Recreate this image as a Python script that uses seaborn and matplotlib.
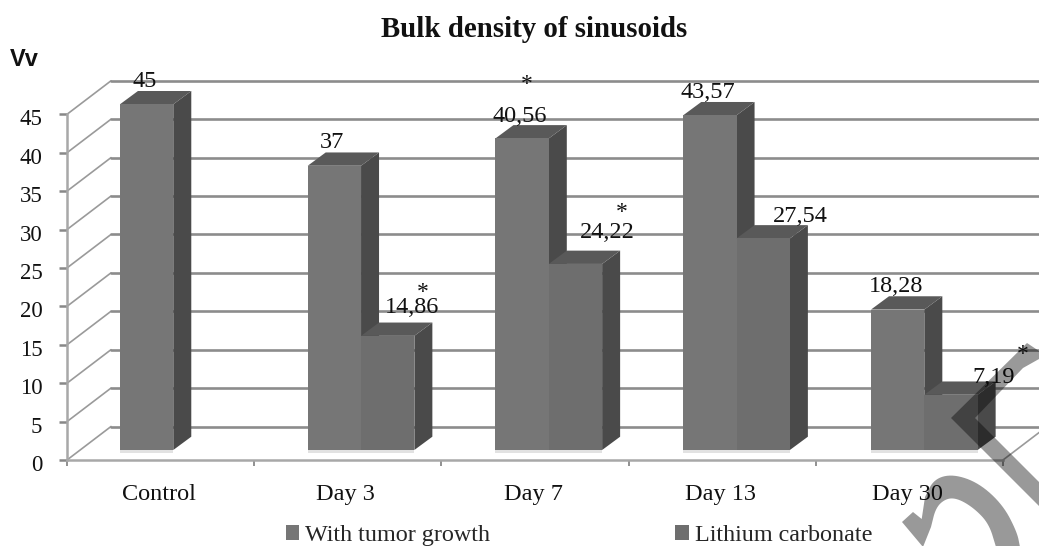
import numpy as np
import pandas as pd
import matplotlib
matplotlib.use("Agg")
import matplotlib.pyplot as plt
import seaborn as sns
from matplotlib.patches import Polygon, Rectangle
from matplotlib.transforms import ScaledTranslation

categories = ["Control", "Day 3", "Day 7", "Day 13", "Day 30"]
tumor_growth = [45, 37, 40.56, 43.57, 18.28]
lithium = [np.nan, 14.86, 24.22, 27.54, 7.19]
series_names = ["With tumor growth", "Lithium carbonate"]
y_ticks = list(range(0, 50, 5))
title = "Bulk density of sinusoids"

W, H = 1039, 546
PX = 72 / 100
SERIF = "Liberation Serif"
sns.set_theme(style="white")
plt.rcParams["font.family"] = SERIF

df = pd.DataFrame({
    "cat": categories * 2,
    "val": tumor_growth + lithium,
    "series": [series_names[0]] * 5 + [series_names[1]] * 5,
})

fig = plt.figure(figsize=(W / 100, H / 100), dpi=100, facecolor="white")


def axes_px(x0, x1, ybottom, ytop):
    return fig.add_axes([x0 / W, 1 - ybottom / H, (x1 - x0) / W, (ybottom - ytop) / H])


# frame axes: axis lines, ticks and the 3D wall
frame = axes_px(67, 1003, 460, 114.3)
frame.set_xlim(0, 5)
frame.set_ylim(0, 45)
frame.patch.set_alpha(0)
unit_x = 936 / 5
unit_y = 345.7 / 45
wall_dx, wall_dy = 44 / unit_x, 33.5 / unit_y
GRID = "#8c8c8c"
for v in y_ticks:
    frame.plot([0, wall_dx], [v, v + wall_dy], color="#9a9a9a", lw=1.2, clip_on=False, zorder=1)
    frame.plot([wall_dx, 5.3], [v + wall_dy] * 2, color=GRID, lw=1.9, clip_on=False, zorder=1)
frame.plot([5, 5 + wall_dx], [0, wall_dy], color="#9a9a9a", lw=1.2, clip_on=False, zorder=1)
for s in ["top", "right"]:
    frame.spines[s].set_visible(False)
for s in ["left", "bottom"]:
    frame.spines[s].set_color("#a8a8a8")
    frame.spines[s].set_linewidth(1.8)
frame.set_yticks(y_ticks)
frame.set_xticks(range(6))
frame.set_xticklabels([])
frame.set_xticks(np.arange(5) + 0.49, labels=categories, minor=True)
frame.tick_params(axis="x", which="major", length=6 * PX, width=1.3, color="#888888", bottom=True)
frame.tick_params(axis="x", which="minor", length=0, labelsize=17.5, pad=17, bottom=False)
frame.tick_params(axis="y", length=8 * PX, width=1.8, color="#888888", labelsize=16.5, pad=12, left=True)
for lab in frame.get_xticklabels(which="minor") + frame.get_yticklabels():
    lab.set_fontfamily(SERIF)
    lab.set_color("#111111")
for lab in frame.get_yticklabels():
    lab.set_transform(lab.get_transform() + ScaledTranslation(0, -3 * PX / 72, fig.dpi_scale_trans))

# bars axes: same value scale, shifted to the floor of the 3D box
bars_ax = axes_px(79.4, 1018.2, 450, 104.3)
bars_ax.patch.set_alpha(0)
front_colors = ["#767676", "#6e6e6e"]
sns.barplot(data=df, x="cat", y="val", hue="series", order=categories,
            hue_order=series_names, palette=front_colors, width=0.568, gap=0,
            saturation=1, errorbar=None, ax=bars_ax, linewidth=0, legend=True)
bars_ax.set_xlim(-0.5, 4.5)
bars_ax.set_ylim(0, 45)
bars_ax.axis("off")

bar_unit_x = (1018.2 - 79.4) / 5
depth_x, depth_y = 18 / bar_unit_x, 13.3 / unit_y
fronts = [p for p in bars_ax.patches if p.get_height() > 0 and not np.isnan(p.get_height())]
label_dx = {"14.86": 24, "24.22": 32, "27.54": 37, "7.19": 43}
label_dy = {"14.86": 28, "24.22": 31, "7.19": 17, "40.56": 22, "27.54": 22}


def fmt(v):
    return f"{v:g}".replace(".", ",")


for p in fronts:
    x0, w, h = p.get_x(), p.get_width(), p.get_height()
    x1 = x0 + w
    z = 3 + x0 * 0.1
    p.set_zorder(z + 0.02)
    bars_ax.add_patch(Polygon([(x1, 0), (x1 + depth_x, depth_y), (x1 + depth_x, h + depth_y), (x1, h)],
                              closed=True, fc="#4a4a4a", ec="none", zorder=z, clip_on=False))
    bars_ax.add_patch(Polygon([(x0, h), (x0 + depth_x, h + depth_y), (x1 + depth_x, h + depth_y), (x1, h)],
                              closed=True, fc="#595959", ec="none", zorder=z + 0.01, clip_on=False))
    bars_ax.add_patch(Rectangle((x0, -0.4), w, 0.4, fc="#e2e2e2", ec="none", zorder=2, clip_on=False))
    key = f"{h:g}"
    bars_ax.annotate(fmt(h), xy=(x0 + w / 2, h),
                     xytext=(label_dx.get(key, -2) * PX, label_dy.get(key, 23) * PX),
                     textcoords="offset points", ha="center", va="center",
                     fontsize=17.5, color="#111111", zorder=8, annotation_clip=False,
                     fontfamily=SERIF)

# legend
leg_handles, leg_labels = bars_ax.get_legend_handles_labels()
bars_ax.legend_.remove()
fig.legend(leg_handles, leg_labels, ncol=2, loc="center left", bbox_to_anchor=(286 / W, 1 - 535.5 / H),
           frameon=False, fontsize=17.4, handlelength=0.55, handleheight=0.55, handletextpad=0.25,
           columnspacing=7.66, borderpad=0, borderaxespad=0)

fig.text(534 / W, 1 - 29.5 / H, title, ha="center", va="center", fontsize=20.8,
         fontweight="bold", fontfamily=SERIF, color="#111111")
fig.text(10 / W, 1 - 59 / H, "Vv", ha="left", va="center", fontsize=17, fontweight="bold",
         fontfamily="Liberation Sans", color="#111111")
for xp, yp in [(527, 85), (622, 212), (423, 293), (1023, 355)]:
    fig.text(xp / W, 1 - yp / H, "*", ha="center", va="center", fontsize=17, fontfamily=SERIF, color="#111111")


# semi-transparent watermark fragments over the picture
def smooth(points, rounds=3):
    pts = np.asarray(points, float)
    for _ in range(rounds):
        q = 0.75 * pts[:-1] + 0.25 * pts[1:]
        r = 0.25 * pts[:-1] + 0.75 * pts[1:]
        mid = np.empty((2 * len(q), 2))
        mid[0::2], mid[1::2] = q, r
        pts = np.vstack([pts[0], mid, pts[-1]])
    return pts


over = fig.add_axes([0, 0, 1, 1])
over.set_xlim(0, W)
over.set_ylim(H, 0)
over.axis("off")
over.patch.set_alpha(0)
mark = dict(fc="black", alpha=0.4, ec="none")
over.add_patch(Polygon([(951, 418), (1027, 343), (1039, 351), (1039, 359), (1023, 368), (975, 418),
                        (1039, 482), (1039, 506)], closed=True, **mark))
outer_arc = smooth([(925, 497), (934, 479), (953, 474), (979, 483), (1003, 505), (1017, 532), (1020, 547)])
inner_arc = smooth([(996, 547), (989, 524), (975, 509), (959, 499), (947, 498), (936, 507), (931, 527)])
arch = np.vstack([[(902, 522), (913, 512), (921.7, 519)], outer_arc, inner_arc, [(923, 547)]])
over.add_patch(Polygon(arch, closed=True, **mark))

fig.savefig("out.png", dpi=100, facecolor="white")
